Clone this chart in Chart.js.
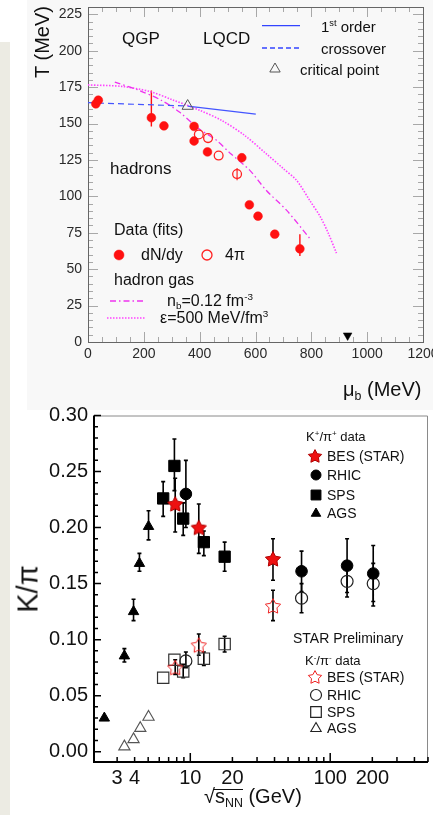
<!DOCTYPE html>
<html lang="en">
<head>
<meta charset="utf-8" />
<title>Freeze-out T vs mu_b and K/pi vs sqrt(s_NN)</title>
<script src="https://cdn.jsdelivr.net/npm/chart.js@4.4.0/dist/chart.umd.min.js"></script>
<style>
  body { margin: 0; width: 433px; height: 815px; position: relative; overflow: hidden; background: #fff;
         font-family: "Liberation Sans", Arial, Helvetica, sans-serif; color: #111; }
  .strip { position: absolute; left: 0; top: 42px; width: 10px; height: 773px; background: #ecebe3; }
  .panel { position: absolute; left: 27px; top: 0; width: 406px; height: 410px; background: #f8f8f8; }
  canvas { position: absolute; left: 0; }
  .t { position: absolute; white-space: nowrap; line-height: 1; }
  .t sup, .t sub { font-size: 62%; line-height: 0; }
  .t sup { vertical-align: 0.6em; }
  .t sub { vertical-align: -0.3em; }
  .rot { transform: translate(-50%, -50%) rotate(-90deg); }
  .rad { position: relative; }
  .rad::before { content: ''; position: absolute; left: -1px; right: 0; top: 4px; border-top: 1.5px solid #111; }
</style>
</head>
<body>
<div class="strip"></div>
<div class="panel"></div>
<canvas id="phase" width="433" height="370" style="top:0"></canvas>
<canvas id="kpi" width="433" height="390" style="top:400px"></canvas>

<!-- upper plot texts -->
<div class="t rot" style="left:42px;top:42px;font-size:20px">T (MeV)</div>
<div class="t" style="left:122px;top:29.5px;font-size:17px">QGP</div>
<div class="t" style="left:203px;top:29.5px;font-size:17px">LQCD</div>
<div class="t" style="left:110px;top:160px;font-size:17px">hadrons</div>
<div class="t" style="left:321px;top:19px;font-size:15px">1<sup>st</sup> order</div>
<div class="t" style="left:321px;top:40.5px;font-size:15px">crossover</div>
<div class="t" style="left:300px;top:61.5px;font-size:15px">critical point</div>
<div class="t" style="left:114px;top:222px;font-size:16px">Data (fits)</div>
<div class="t" style="left:141px;top:247px;font-size:16px">dN/dy</div>
<div class="t" style="left:225px;top:247px;font-size:16px">4π</div>
<div class="t" style="left:114px;top:272px;font-size:16px">hadron gas</div>
<div class="t" style="left:167px;top:293px;font-size:16px">n<sub>b</sub>=0.12 fm<sup>-3</sup></div>
<div class="t" style="left:160px;top:310px;font-size:16px">ε=500 MeV/fm<sup>3</sup></div>
<div class="t" style="left:343px;top:379px;font-size:20px">μ<sub>b</sub> (MeV)</div>

<!-- lower plot texts -->
<div class="t rot" style="left:28px;top:589px;font-size:29px">K/π</div>
<div class="t" style="left:306px;top:430px;font-size:13px">K<sup>+</sup>/π<sup>+</sup> data</div>
<div class="t" style="left:327px;top:449px;font-size:14px">BES (STAR)</div>
<div class="t" style="left:327px;top:468px;font-size:14px">RHIC</div>
<div class="t" style="left:327px;top:488px;font-size:14px">SPS</div>
<div class="t" style="left:327px;top:506px;font-size:14px">AGS</div>
<div class="t" style="left:293px;top:631px;font-size:14px">STAR Preliminary</div>
<div class="t" style="left:305px;top:654px;font-size:13px">K<sup>-</sup>/π<sup>-</sup> data</div>
<div class="t" style="left:327px;top:670px;font-size:14px">BES (STAR)</div>
<div class="t" style="left:327px;top:688px;font-size:14px">RHIC</div>
<div class="t" style="left:327px;top:705px;font-size:14px">SPS</div>
<div class="t" style="left:327px;top:721px;font-size:14px">AGS</div>
<div class="t" style="left:204px;top:786px;font-size:20px">√<span class="rad">s<sub>NN</sub></span> (GeV)</div>

<script>
// ---------- upper plot: T vs mu_b ----------
const MUB_TICKS = [0, 200, 400, 600, 800, 1000, 1200];
const T_TICKS = [0, 25, 50, 75, 100, 125, 150, 175, 200, 225];

// dN/dy fits (filled red)
const MUB_DNDY = [28, 37, 227, 272, 380, 380, 428, 551, 578, 609, 669, 759];
const T_DNDY = [163.5, 166, 154, 148.4, 148, 138, 130.5, 126.5, 94.2, 86.4, 74, 64];
const T_DNDY_LO = [null, null, 148, null, null, null, null, null, null, null, null, 59];
const T_DNDY_HI = [null, null, 172.6, null, null, null, null, null, null, null, null, 74];

// 4pi fits (open red)
const MUB_4PI = [397, 430, 468, 534];
const T_4PI = [142.5, 140, 128, 115.3];
const T_4PI_LO = [null, null, null, 111];
const T_4PI_HI = [null, null, null, 119.5];

const MUB_CRIT = [357];
const T_CRIT = [162];
const MUB_NUCL = [930];
const T_NUCL = [4.5];

// LQCD lines
const MUB_1ST = [357, 601];
const T_1ST = [162, 156.5];
const MUB_CROSS = [0, 357];
const T_CROSS = [164.3, 162];

// hadron gas curves
const MUB_NB = [96, 180, 262, 330, 393, 460, 507, 579, 639, 711, 795];
const T_NB = [178.5, 173, 166, 157.5, 147, 138.5, 130, 118, 104, 90.5, 71];
const MUB_EPS = [0, 120, 221, 300, 401, 480, 560, 640, 700, 747, 795, 832, 860, 890];
const T_EPS = [176.5, 175.5, 172, 166.5, 159, 152, 142, 129, 119, 111, 97, 86, 75, 61];

// ---------- lower plot: K/pi vs sqrt(s_NN) ----------
const S_TICKS = [3, 4, 10, 20, 100, 200];
const KPI_TICKS = [0, 0.05, 0.10, 0.15, 0.20, 0.25, 0.30];

const S_BES = [7.8, 11.5, 39];
const KP_BES = [0.221, 0.200, 0.172];
const KP_BES_LO = [0.196, 0.177, 0.153];
const KP_BES_HI = [0.244, 0.221, 0.190];
const KM_BES = [0.075, 0.095, 0.130];
const KM_BES_LO = [0.069, 0.086, 0.117];
const KM_BES_HI = [0.082, 0.105, 0.144];

const S_RHIC = [9.3, 62.4, 132, 203];
const KP_RHIC = [0.230, 0.161, 0.166, 0.159];
const KP_RHIC_LO = [0.200, 0.143, 0.142, 0.134];
const KP_RHIC_HI = [0.260, 0.179, 0.190, 0.184];
const KM_RHIC = [0.081, 0.137, 0.152, 0.150];
const KM_RHIC_LO = [0.075, 0.124, 0.138, 0.130];
const KM_RHIC_HI = [0.089, 0.150, 0.166, 0.168];

const S_SPS = [6.4, 7.7, 8.9, 12.5, 17.6];
const KP_SPS = [0.226, 0.255, 0.208, 0.187, 0.174];
const KP_SPS_LO = [0.210, 0.233, 0.193, 0.175, 0.161];
const KP_SPS_HI = [0.241, 0.279, 0.222, 0.197, 0.187];
const KM_SPS = [0.066, 0.082, 0.0715, 0.083, 0.096];
const KM_SPS_LO = [null, null, 0.066, 0.077, 0.089];
const KM_SPS_HI = [null, null, 0.078, 0.089, 0.103];

const S_AGS_P = [2.43, 3.38, 3.93, 4.33, 5.03];
const KP_AGS = [0.030, 0.0855, 0.125, 0.168, 0.201];
const KP_AGS_LO = [null, 0.080, 0.117, 0.161, 0.189];
const KP_AGS_HI = [null, 0.092, 0.136, 0.177, 0.215];
const S_AGS_M = [3.38, 3.93, 4.39, 5.03];
const KM_AGS = [0.0045, 0.011, 0.021, 0.031];

Chart.defaults.font.family = "'Liberation Sans', Arial, sans-serif";
Chart.defaults.color = '#111';

const pts = (xs, ys) => xs.map((x, i) => ({ x: x, y: ys[i] }));

// keep axis label overhang from shrinking the plot area
const noPad = s => { s.paddingLeft = 0; s.paddingRight = 0; s.paddingTop = 0; s.paddingBottom = 0; };

function makeStar(size, fill, stroke, lw) {
  const c = document.createElement('canvas');
  c.width = c.height = size;
  const g = c.getContext('2d');
  const R = size / 2 - lw, r = R * 0.52, cx = size / 2, cy = size / 2 + 0.6;
  g.beginPath();
  for (let i = 0; i < 10; i++) {
    const a = -Math.PI / 2 + i * Math.PI / 5;
    const rr = i % 2 ? r : R;
    g.lineTo(cx + rr * Math.cos(a), cy + rr * Math.sin(a));
  }
  g.closePath();
  if (fill) { g.fillStyle = fill; g.fill(); }
  g.strokeStyle = stroke; g.lineWidth = lw; g.stroke();
  return c;
}
const STAR_FULL = makeStar(18, '#ee1111', '#b00000', 1);
const STAR_OPEN = makeStar(18, null, '#ee2222', 1);
const STAR_FULL_S = makeStar(16, '#ee1111', '#b00000', 1);
const STAR_OPEN_S = makeStar(16, null, '#ee2222', 1);

function drawErrorBars(chart) {
  const ctx = chart.ctx, xs = chart.scales.x, ys = chart.scales.y;
  chart.data.datasets.forEach(ds => {
    if (!ds.errLo) return;
    ctx.save();
    ctx.strokeStyle = ds.errColor;
    ctx.lineWidth = ds.errWidth;
    ctx.beginPath();
    ds.data.forEach((p, j) => {
      const lo = ds.errLo[j], hi = ds.errHi[j];
      if (lo == null) return;
      const px = xs.getPixelForValue(p.x);
      const y1 = ys.getPixelForValue(lo), y2 = ys.getPixelForValue(hi);
      ctx.moveTo(px, y1); ctx.lineTo(px, y2);
      if (ds.errCap) {
        ctx.moveTo(px - ds.errCap, y1); ctx.lineTo(px + ds.errCap, y1);
        ctx.moveTo(px - ds.errCap, y2); ctx.lineTo(px + ds.errCap, y2);
      }
    });
    ctx.stroke();
    ctx.restore();
  });
}

function seg(ctx, x1, y1, x2, y2, color, w, dash) {
  ctx.save();
  ctx.strokeStyle = color; ctx.lineWidth = w; ctx.setLineDash(dash || []);
  ctx.beginPath(); ctx.moveTo(x1, y1); ctx.lineTo(x2, y2); ctx.stroke();
  ctx.restore();
}

function marker(ctx, style, r, x, y, fill, stroke, bw, rot) {
  ctx.save();
  ctx.fillStyle = fill; ctx.strokeStyle = stroke; ctx.lineWidth = bw;
  Chart.helpers.drawPoint(ctx, { pointStyle: style, radius: r, rotation: rot || 0, borderWidth: bw }, x, y);
  ctx.restore();
}

// ---------- upper chart ----------
const phaseFrame = {
  id: 'phaseFrame',
  beforeDatasetsDraw(chart) {
    const { ctx, chartArea: a, scales: { x, y } } = chart;
    ctx.save();
    ctx.strokeStyle = '#a8a8a8';
    ctx.lineWidth = 1;
    ctx.beginPath();
    for (let i = 0; i <= 24; i++) {
      const v = i * 50;
      const px = Math.round(x.getPixelForValue(v)) + 0.5;
      const len = i % 4 === 0 ? 10 : 5;
      ctx.moveTo(px, a.bottom); ctx.lineTo(px, a.bottom - len);
      ctx.moveTo(px, a.top); ctx.lineTo(px, a.top + len);
    }
    for (let i = 0; i <= 46; i++) {
      const v = i * 5;
      const py = Math.round(y.getPixelForValue(v)) + 0.5;
      const len = i % 5 === 0 ? 10 : 5;
      ctx.moveTo(a.left, py); ctx.lineTo(a.left + len, py);
      ctx.moveTo(a.right, py); ctx.lineTo(a.right - len, py);
    }
    ctx.stroke();
    ctx.strokeStyle = '#666';
    ctx.strokeRect(Math.round(a.left) + 0.5, Math.round(a.top) + 0.5, Math.round(a.right - a.left), Math.round(a.bottom - a.top));
    ctx.restore();
    drawErrorBars(chart);
  },
  afterDraw(chart) {
    const ctx = chart.ctx;
    seg(ctx, 262, 25.7, 300, 25.7, '#3344ff', 1.3);
    seg(ctx, 262, 48, 300, 48, '#3344ff', 1.3, [5, 3]);
    marker(ctx, 'triangle', 6, 275, 69, 'rgba(0,0,0,0)', '#555', 1);
    marker(ctx, 'circle', 5, 119, 255, '#ff1010', '#ff1010', 0.5);
    marker(ctx, 'circle', 5, 207, 255, 'rgba(0,0,0,0)', '#ff2020', 1.3);
    seg(ctx, 110, 301, 145, 301, '#ee33ee', 1.3, [6, 3, 1.5, 3]);
    seg(ctx, 107, 318, 145, 318, '#ff44ff', 1.6, [1.5, 1.5]);
  }
};

new Chart(document.getElementById('phase'), {
  type: 'scatter',
  data: {
    datasets: [
      { data: pts(MUB_DNDY, T_DNDY), pointStyle: 'circle', pointRadius: 4.4, backgroundColor: '#ff1010',
        borderColor: '#ff1010', borderWidth: 0.5, errLo: T_DNDY_LO, errHi: T_DNDY_HI, errColor: '#ff1010', errWidth: 1.4 },
      { data: pts(MUB_4PI, T_4PI), pointStyle: 'circle', pointRadius: 4.4, backgroundColor: 'rgba(0,0,0,0)',
        borderColor: '#ff2020', borderWidth: 1.3, errLo: T_4PI_LO, errHi: T_4PI_HI, errColor: '#ff2020', errWidth: 1.2 },
      { data: pts(MUB_CRIT, T_CRIT), pointStyle: 'triangle', pointRadius: 6.5, backgroundColor: 'rgba(0,0,0,0)',
        borderColor: '#555', borderWidth: 1 },
      { data: pts(MUB_NUCL, T_NUCL), pointStyle: 'triangle', rotation: 180, pointRadius: 5, backgroundColor: '#000',
        borderColor: '#000', borderWidth: 0.5 },
      { data: pts(MUB_1ST, T_1ST), showLine: true, pointRadius: 0, borderColor: '#4455ff', borderWidth: 1.2 },
      { data: pts(MUB_CROSS, T_CROSS), showLine: true, pointRadius: 0, borderColor: '#4455ff', borderWidth: 1.2,
        borderDash: [6, 4] },
      { data: pts(MUB_NB, T_NB), showLine: true, pointRadius: 0, borderColor: '#ee33ee', borderWidth: 1.3,
        borderDash: [6, 3, 1.5, 3], tension: 0.3 },
      { data: pts(MUB_EPS, T_EPS), showLine: true, pointRadius: 0, borderColor: '#ff44ff', borderWidth: 1.6,
        borderDash: [1.5, 1.5], tension: 0.3 }
    ]
  },
  options: {
    responsive: false,
    animation: false,
    events: [],
    clip: false,
    layout: { autoPadding: false, padding: { top: 7, right: 10, left: 0, bottom: 0 } },
    plugins: { legend: { display: false }, tooltip: { enabled: false } },
    scales: {
      x: {
        type: 'linear', min: 0, max: 1200,
        grid: { display: false, drawTicks: false }, border: { display: false },
        afterFit: s => { s.height = 28; noPad(s); },
        afterBuildTicks: s => { s.ticks = MUB_TICKS.map(v => ({ value: v })); },
        ticks: { autoSkip: false, maxRotation: 0, padding: 4, color: '#2a2a2a', font: { size: 14 },
                 callback: v => String(v) }
      },
      y: {
        type: 'linear', min: 0, max: 230,
        grid: { display: false, drawTicks: false }, border: { display: false },
        afterFit: s => { s.width = 88; noPad(s); },
        afterBuildTicks: s => { s.ticks = T_TICKS.map(v => ({ value: v })); },
        ticks: { autoSkip: false, padding: 6, color: '#2a2a2a', font: { size: 14 },
                 callback: v => String(v) }
      }
    }
  },
  plugins: [phaseFrame]
});

// ---------- lower chart ----------
const kpiFrame = {
  id: 'kpiFrame',
  beforeDatasetsDraw(chart) {
    const { ctx, chartArea: a, scales: { x, y } } = chart;
    ctx.save();
    ctx.strokeStyle = '#8a8a8a';
    ctx.lineWidth = 1;
    ctx.beginPath();
    ctx.moveTo(a.left, a.top + 0.5); ctx.lineTo(a.right - 0.5, a.top + 0.5); ctx.lineTo(a.right - 0.5, a.bottom);
    ctx.stroke();
    ctx.strokeStyle = '#000';
    ctx.lineWidth = 1.5;
    ctx.beginPath();
    for (let i = 0; i <= 30; i++) {
      const py = y.getPixelForValue(i / 100);
      const len = i % 5 === 0 ? 7 : 4;
      ctx.moveTo(a.left, py); ctx.lineTo(a.left + len, py);
    }
    for (let d = 0; d <= 2; d++) {
      for (let m = 1; m <= 9; m++) {
        const v = m * Math.pow(10, d);
        if (v < x.min || v > x.max) continue;
        const px = x.getPixelForValue(v);
        const len = m === 1 ? 9 : 5;
        ctx.moveTo(px, a.bottom); ctx.lineTo(px, a.bottom - len);
      }
    }
    ctx.stroke();
    ctx.lineWidth = 2;
    ctx.beginPath();
    ctx.moveTo(a.left, a.top); ctx.lineTo(a.left, a.bottom); ctx.lineTo(a.right, a.bottom);
    ctx.stroke();
    ctx.restore();
    drawErrorBars(chart);
  },
  afterDraw(chart) {
    const ctx = chart.ctx;
    ctx.drawImage(STAR_FULL_S, 315 - 8, 56 - 8);
    marker(ctx, 'circle', 5, 316, 75, '#000', '#000', 1);
    marker(ctx, 'rect', 7, 316, 95, '#000', '#000', 1);
    marker(ctx, 'triangle', 5.5, 316, 113.5, '#000', '#000', 1);
    ctx.drawImage(STAR_OPEN_S, 315 - 8, 277 - 8);
    marker(ctx, 'circle', 5.5, 316, 295, 'rgba(0,0,0,0)', '#222', 1.2);
    marker(ctx, 'rect', 7.5, 316, 312, 'rgba(0,0,0,0)', '#222', 1.2);
    marker(ctx, 'triangle', 6, 316, 328.5, 'rgba(0,0,0,0)', '#222', 1.1);
  }
};

const errBlack = (lo, hi) => ({ errLo: lo, errHi: hi, errColor: '#000', errWidth: 1.6, errCap: 2 });

new Chart(document.getElementById('kpi'), {
  type: 'scatter',
  data: {
    datasets: [
      Object.assign({ data: pts(S_BES, KP_BES), pointStyle: STAR_FULL }, errBlack(KP_BES_LO, KP_BES_HI)),
      Object.assign({ data: pts(S_BES, KM_BES), pointStyle: STAR_OPEN }, errBlack(KM_BES_LO, KM_BES_HI)),
      Object.assign({ data: pts(S_RHIC, KP_RHIC), pointStyle: 'circle', pointRadius: 5.8,
        backgroundColor: '#000', borderColor: '#000', borderWidth: 1 }, errBlack(KP_RHIC_LO, KP_RHIC_HI)),
      Object.assign({ data: pts(S_RHIC, KM_RHIC), pointStyle: 'circle', pointRadius: 6,
        backgroundColor: 'rgba(0,0,0,0)', borderColor: '#222', borderWidth: 1.2 }, errBlack(KM_RHIC_LO, KM_RHIC_HI)),
      Object.assign({ data: pts(S_SPS, KP_SPS), pointStyle: 'rect', pointRadius: 8,
        backgroundColor: '#000', borderColor: '#000', borderWidth: 1 }, errBlack(KP_SPS_LO, KP_SPS_HI)),
      Object.assign({ data: pts(S_SPS, KM_SPS), pointStyle: 'rect', pointRadius: 8,
        backgroundColor: 'rgba(0,0,0,0)', borderColor: '#333', borderWidth: 1.2 }, errBlack(KM_SPS_LO, KM_SPS_HI)),
      Object.assign({ data: pts(S_AGS_P, KP_AGS), pointStyle: 'triangle', pointRadius: 6,
        backgroundColor: '#000', borderColor: '#000', borderWidth: 1 }, errBlack(KP_AGS_LO, KP_AGS_HI)),
      { data: pts(S_AGS_M, KM_AGS), pointStyle: 'triangle', pointRadius: 6.5,
        backgroundColor: 'rgba(0,0,0,0)', borderColor: '#555', borderWidth: 1.1 }
    ]
  },
  options: {
    responsive: false,
    animation: false,
    events: [],
    clip: false,
    layout: { autoPadding: false, padding: { top: 15.5, right: 5, left: 0, bottom: 0 } },
    plugins: { legend: { display: false }, tooltip: { enabled: false } },
    scales: {
      x: {
        type: 'logarithmic', min: 2.05, max: 500,
        grid: { display: false, drawTicks: false }, border: { display: false },
        afterFit: s => { s.height = 28; noPad(s); },
        afterBuildTicks: s => { s.ticks = S_TICKS.map(v => ({ value: v })); },
        ticks: { autoSkip: false, maxRotation: 0, padding: 4, color: '#111', font: { size: 20 },
                 callback: v => String(v) }
      },
      y: {
        type: 'linear', min: -0.0092, max: 0.30,
        grid: { display: false, drawTicks: false }, border: { display: false },
        afterFit: s => { s.width = 94; noPad(s); },
        afterBuildTicks: s => { s.ticks = KPI_TICKS.map(v => ({ value: v })); },
        ticks: { autoSkip: false, padding: 6, color: '#111', font: { size: 20 },
                 callback: v => v.toFixed(2) }
      }
    }
  },
  plugins: [kpiFrame]
});
</script>
</body>
</html>
